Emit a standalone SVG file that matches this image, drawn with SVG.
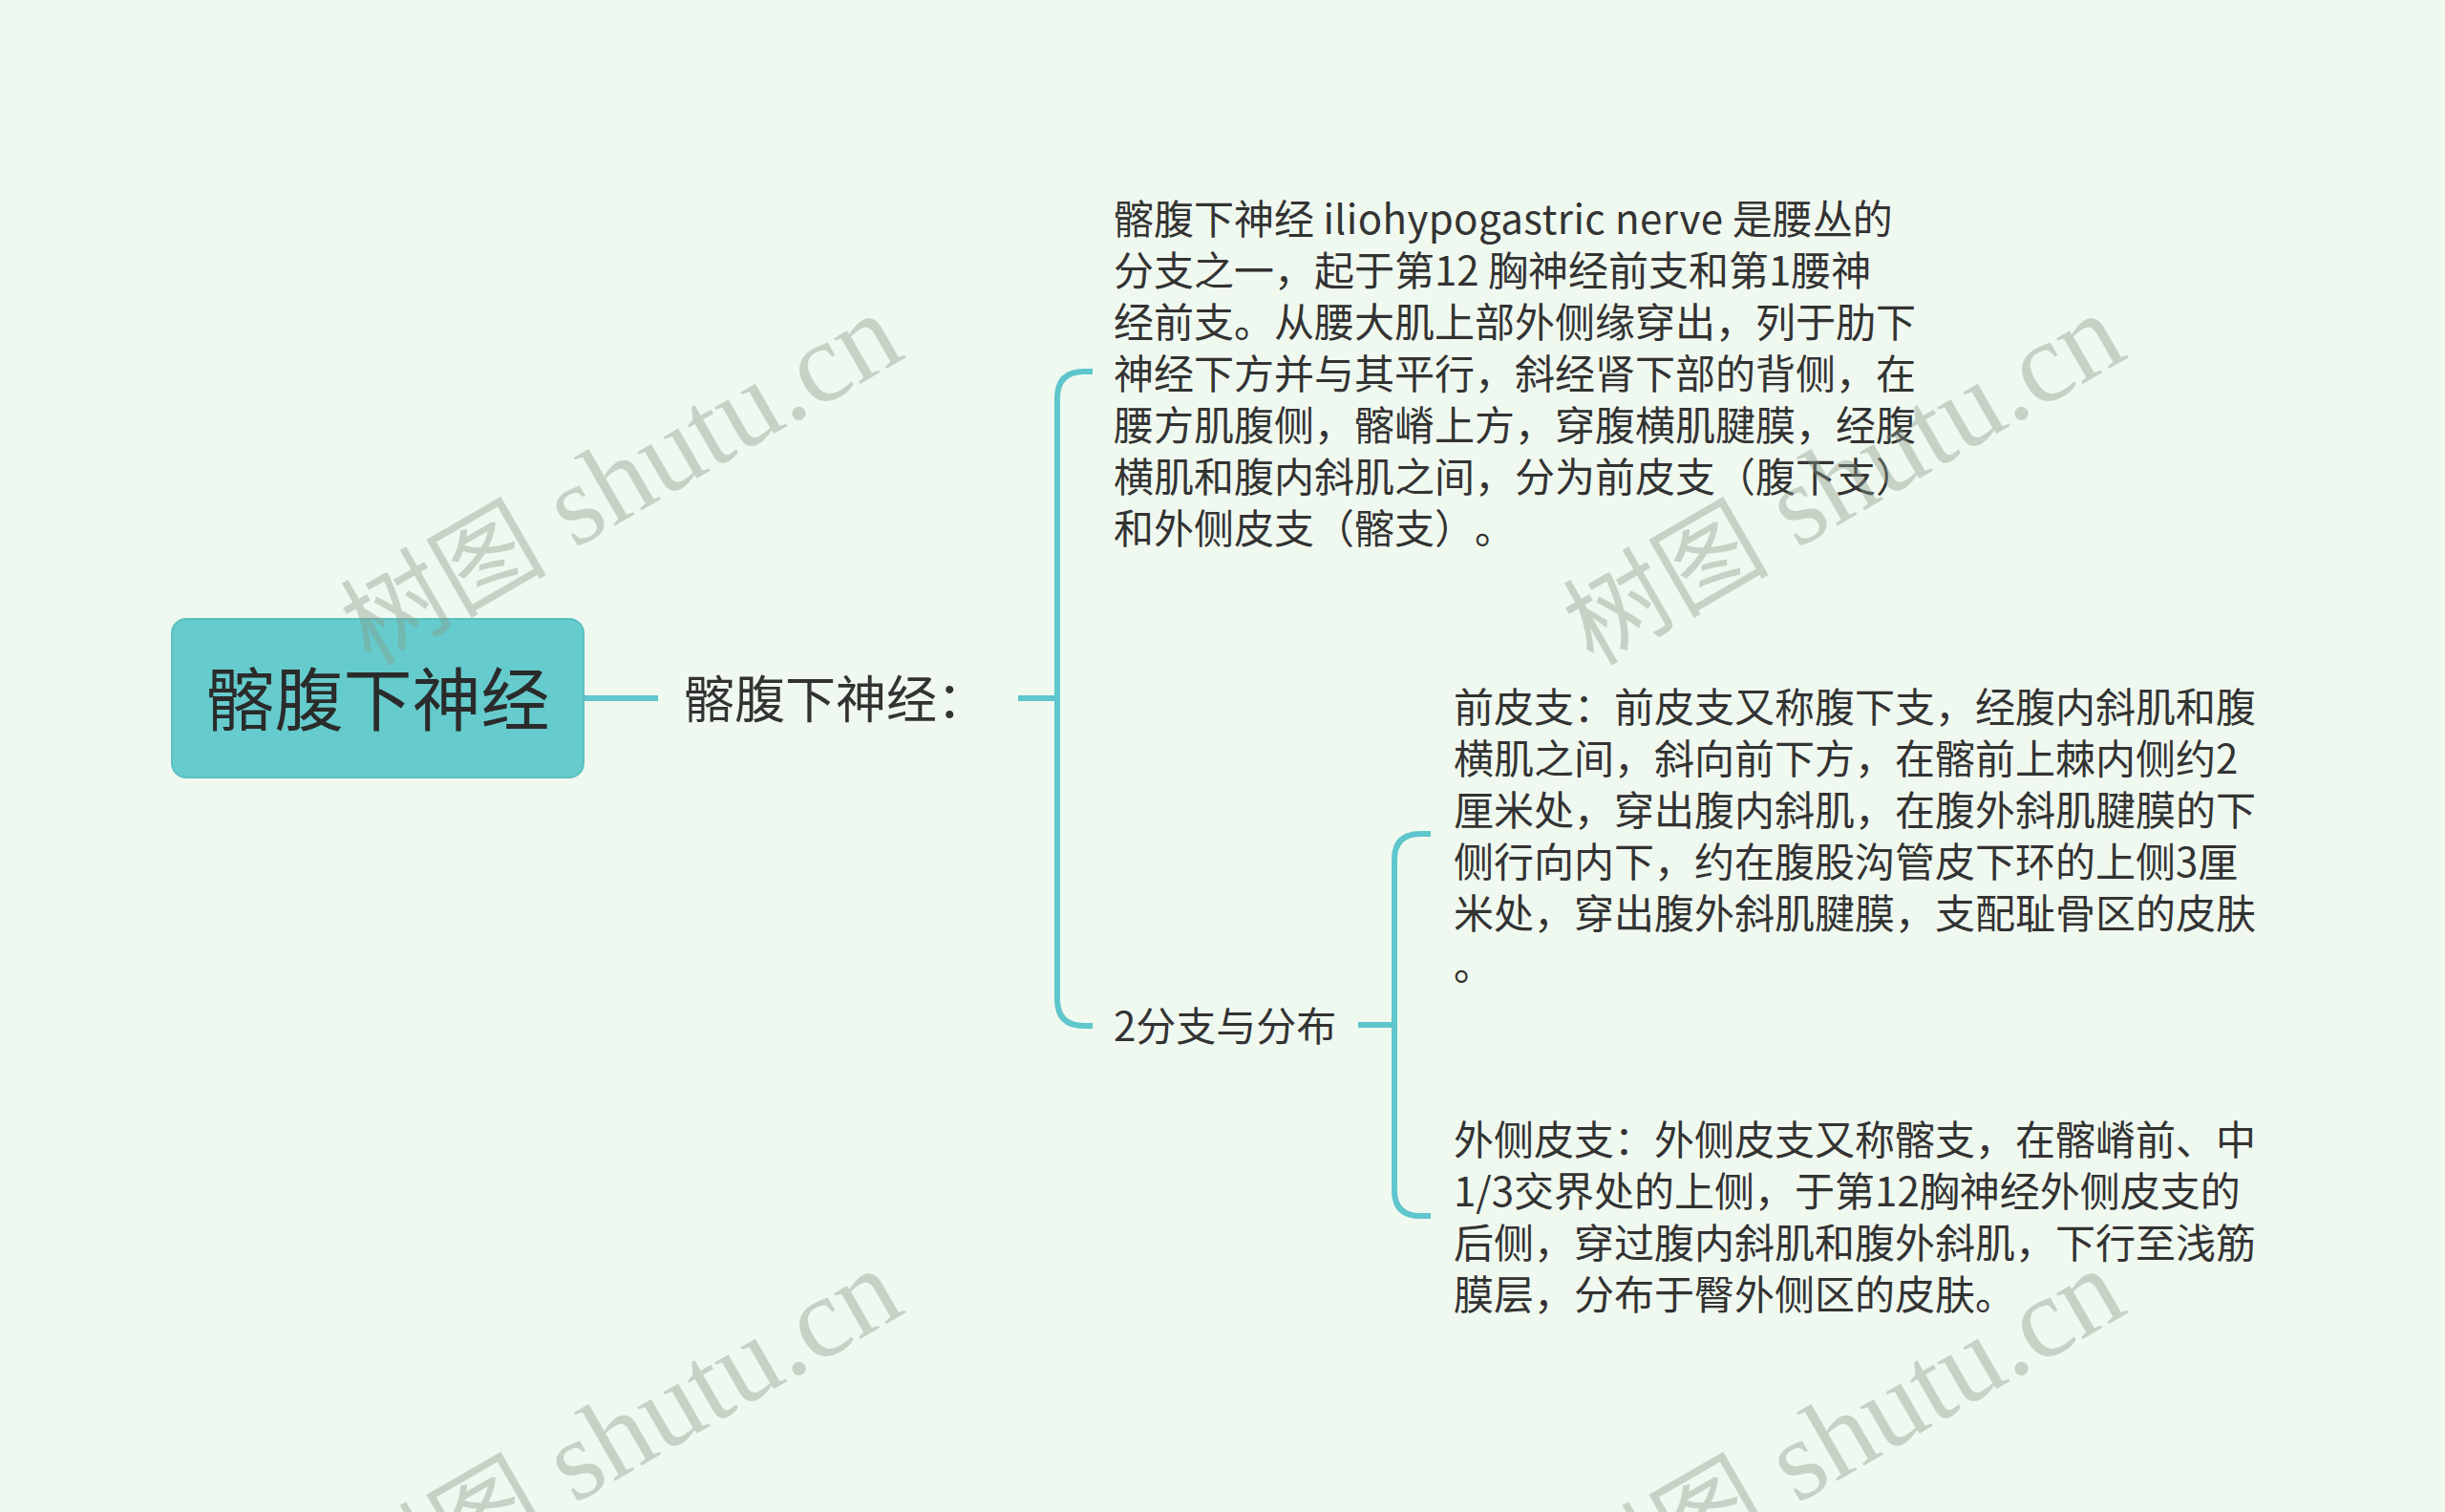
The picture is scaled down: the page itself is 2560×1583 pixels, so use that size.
<svg xmlns="http://www.w3.org/2000/svg" width="2560" height="1583" viewBox="0 0 2560 1583">
<defs>
<style>
.bg{fill:#f0f9ef}
.root{fill:#65cbcc;stroke:#5bbfc2;stroke-width:2}
.conn{fill:none;stroke:#5ec6cc;stroke-width:6;stroke-linecap:butt}
.t{font-family:"Noto Sans CJK SC","Noto Sans",sans-serif;fill:#333333;text-spacing-trim:space-all}
.rt{font-size:72px;fill:#2b2b2b}
.l1{font-size:53px}
.b{font-size:42px}
.wm{font-family:"Liberation Serif","Noto Sans CJK SC",serif;font-size:120px;fill:#8a9a8a;opacity:0.4}
.wc{font-size:108px}
</style>
</defs>
<rect class="bg" x="0" y="0" width="2560" height="1583"/>
<g id="connectors">
<path class="conn" d="M611,731 H689"/>
<path class="conn" d="M1066,731 H1107"/>
<path class="conn" d="M1144,389 H1135 Q1107,389 1107,417 V1046 Q1107,1074 1135,1074 H1144"/>
<path class="conn" d="M1422,1073 H1460"/>
<path class="conn" d="M1498,873 H1487 Q1460,873 1460,900 V1246 Q1460,1273 1487,1273 H1498"/>
</g>
<g id="node-root">
<rect class="root" x="180" y="648" width="431" height="166" rx="15"/>
<text class="t rt" x="395.5" y="759" text-anchor="middle">髂腹下神经</text>
</g>
<g id="node-l1">
<text class="t l1" x="716" y="752">髂腹下神经：</text>
</g>
<g id="node-desc">
<text class="t b">
<tspan x="1166" y="245">髂腹下神经 <tspan letter-spacing="0.4">iliohypogastric nerve</tspan> 是腰丛的</tspan>
<tspan x="1166" y="299">分支之一，起于第12 胸神经前支和第1腰神</tspan>
<tspan x="1166" y="353">经前支。从腰大肌上部外侧缘穿出，列于肋下</tspan>
<tspan x="1166" y="407">神经下方并与其平行，斜经肾下部的背侧，在</tspan>
<tspan x="1166" y="461">腰方肌腹侧，髂嵴上方，穿腹横肌腱膜，经腹</tspan>
<tspan x="1166" y="515">横肌和腹内斜肌之间，分为前皮支（腹下支）</tspan>
<tspan x="1166" y="569">和外侧皮支（髂支）。</tspan>
</text>
</g>
<g id="node-branch">
<text class="t b" x="1166" y="1090">2分支与分布</text>
</g>
<g id="node-anterior">
<text class="t b">
<tspan x="1522" y="756">前皮支：前皮支又称腹下支，经腹内斜肌和腹</tspan>
<tspan x="1522" y="810">横肌之间，斜向前下方，在髂前上棘内侧约2</tspan>
<tspan x="1522" y="864">厘米处，穿出腹内斜肌，在腹外斜肌腱膜的下</tspan>
<tspan x="1522" y="918">侧行向内下，约在腹股沟管皮下环的上侧3厘</tspan>
<tspan x="1522" y="972">米处，穿出腹外斜肌腱膜，支配耻骨区的皮肤</tspan>
<tspan x="1522" y="1026">。</tspan>
</text>
</g>
<g id="node-lateral">
<text class="t b">
<tspan x="1522" y="1209">外侧皮支：外侧皮支又称髂支，在髂嵴前、中</tspan>
<tspan x="1522" y="1263">1/3交界处的上侧，于第12胸神经外侧皮支的</tspan>
<tspan x="1522" y="1317">后侧，穿过腹内斜肌和腹外斜肌，下行至浅筋</tspan>
<tspan x="1522" y="1371">膜层，分布于臀外侧区的皮肤。</tspan>
</text>
</g>
<g id="watermarks">
<text class="wm" transform="translate(388,698) rotate(-30)"><tspan class="wc">树图</tspan> shutu.cn</text>
<text class="wm" transform="translate(1668,698) rotate(-30)"><tspan class="wc">树图</tspan> shutu.cn</text>
<text class="wm" transform="translate(388,1698) rotate(-30)"><tspan class="wc">树图</tspan> shutu.cn</text>
<text class="wm" transform="translate(1668,1698) rotate(-30)"><tspan class="wc">树图</tspan> shutu.cn</text>
</g>
</svg>
